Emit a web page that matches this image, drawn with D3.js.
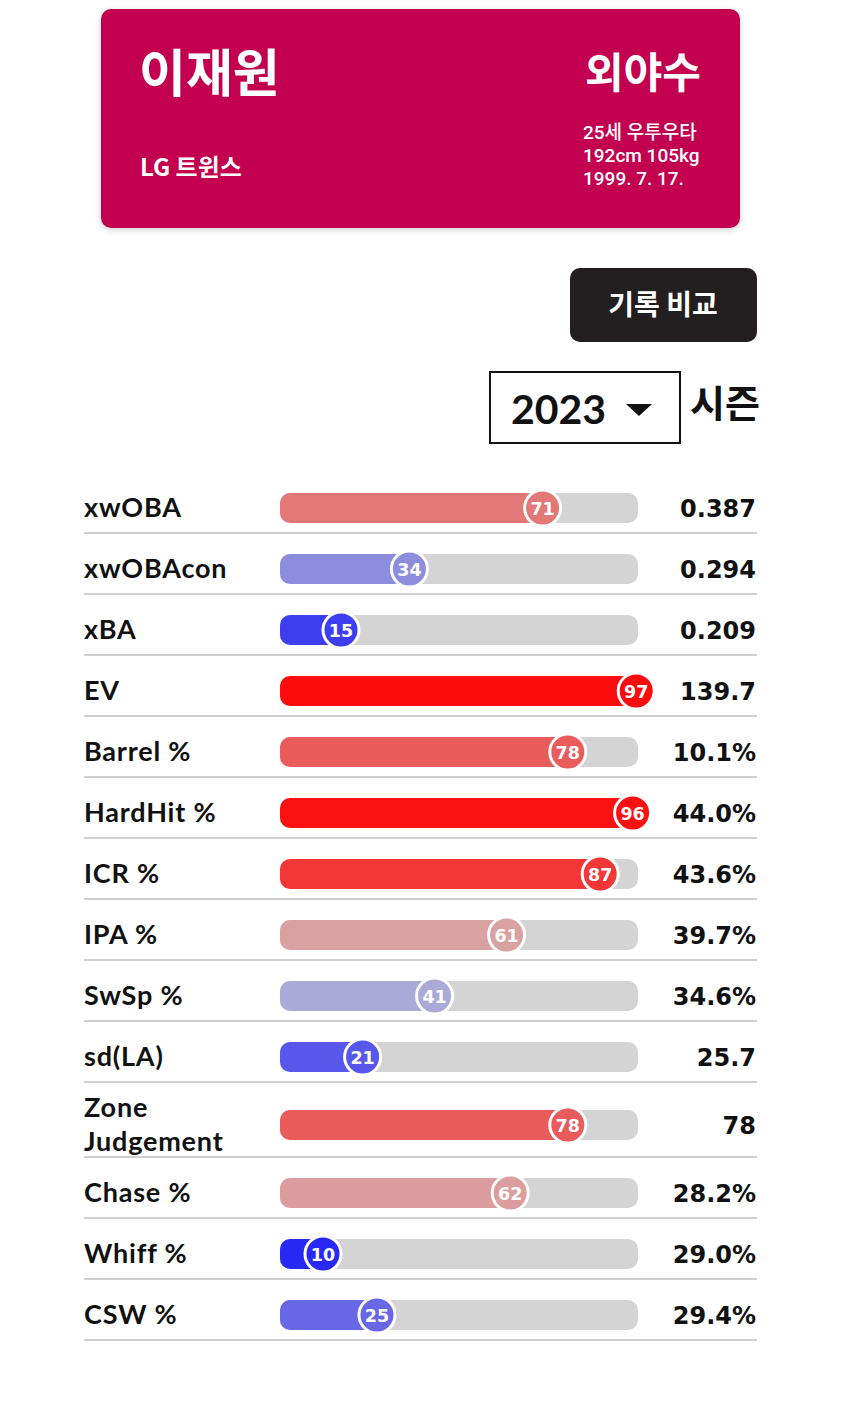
<!DOCTYPE html>
<html><head><meta charset="utf-8">
<script src="https://cdn.jsdelivr.net/npm/d3@7/dist/d3.min.js"></script>
<style>
html,body{margin:0;padding:0;background:#fff;}
svg{display:block;}
</style></head>
<body>
<svg id="chart" width="850" height="1412"></svg>
<script>
// ---- data ----
const playerName = "이재원";
const position = "외야수";
const team = "LG 트윈스";
const infoLines = ["25세 우투우타", "192cm 105kg", "1999. 7. 17."];
const buttonLabel = "기록 비교";
const seasonYear = "2023";
const seasonLabel = "시즌";
const metrics = ["xwOBA","xwOBAcon","xBA","EV","Barrel %","HardHit %","ICR %","IPA %","SwSp %","sd(LA)","Zone\nJudgement","Chase %","Whiff %","CSW %"];
const percentiles = [71,34,15,97,78,96,87,61,41,21,78,62,10,25];
const statValues = ["0.387","0.294","0.209","139.7","10.1%","44.0%","43.6%","39.7%","34.6%","25.7","78","28.2%","29.0%","29.4%"];

// ---- drawing ----
const svg = d3.select("#chart");
const korFont = "'Noto Sans CJK KR', 'Noto Sans', sans-serif";
const latFont = "Lato, 'Noto Sans', sans-serif";
const numFont = "'DejaVu Sans', Lato, sans-serif";

// header card
const defs = svg.append("defs");
const f = defs.append("filter").attr("id","sh").attr("x","-10%").attr("y","-10%").attr("width","120%").attr("height","130%");
f.append("feDropShadow").attr("dx",0).attr("dy",2).attr("stdDeviation",3).attr("flood-color","#000").attr("flood-opacity",0.18);

svg.append("rect").attr("x",101).attr("y",9).attr("width",639).attr("height",219).attr("rx",10)
  .attr("fill","#c2044f").attr("filter","url(#sh)");
svg.append("text").attr("x",139).attr("y",92).text(playerName)
  .attr("font-family",korFont).attr("font-weight",700).attr("font-size",51).attr("fill","#fff");
svg.append("text").attr("x",701).attr("y",88).attr("text-anchor","end").text(position)
  .attr("font-family",korFont).attr("font-weight",700).attr("font-size",42).attr("fill","#fff");
svg.append("text").attr("x",140).attr("y",176).text(team)
  .attr("font-family",korFont).attr("font-weight",700).attr("font-size",24).attr("fill","#fff");
svg.selectAll("text.info").data(infoLines).join("text").attr("class","info")
  .attr("x",583).attr("y",(d,i)=>139+i*23).text(d=>d)
  .attr("font-family","Roboto, 'Noto Sans CJK KR', sans-serif").attr("font-weight",500).attr("font-size",19).attr("fill","#fff");

// button
svg.append("rect").attr("x",570).attr("y",268).attr("width",187).attr("height",74).attr("rx",10).attr("fill","#231f20");
svg.append("text").attr("x",663).attr("y",315).attr("text-anchor","middle").text(buttonLabel)
  .attr("font-family",korFont).attr("font-weight",700).attr("font-size",28).attr("fill","#fff");

// season dropdown
svg.append("rect").attr("x",490).attr("y",372).attr("width",190).attr("height",71).attr("fill","#fff").attr("stroke","#111").attr("stroke-width",2);
svg.append("text").attr("x",511).attr("y",424).text(seasonYear)
  .attr("font-family",latFont).attr("font-weight",700).attr("font-size",41).attr("fill","#111");
svg.append("path").attr("d","M626,404 L652,404 L639,416 Z").attr("fill","#111");
svg.append("text").attr("x",690).attr("y",417).text(seasonLabel)
  .attr("font-family",korFont).attr("font-weight",700).attr("font-size",38).attr("fill","#111");

// rows
const rows = metrics.map((m,i)=>({label:m, pct:percentiles[i], val:statValues[i], lines:m.split("\n").length}));
let yTop = 472;
rows.forEach(r=>{ r.h = r.lines>1 ? 75 : 61; r.top = yTop; r.bottom = yTop + r.h; r.cy = r.bottom - (r.lines>1 ? 32 : 25); yTop += r.h; });

const x = d3.scaleLinear().domain([0,100]).range([287,647]);
const color = d3.scaleLinear().domain([0,50,100]).range(["#0000ff","#cfcfcf","#ff0000"]).interpolate(d3.interpolateRgb);
const trackX0 = 280, trackX1 = 638, barH = 30;

const g = svg.append("g");
const row = g.selectAll("g.row").data(rows).join("g").attr("class","row");

row.append("line").attr("x1",84).attr("x2",757).attr("y1",d=>d.bottom).attr("y2",d=>d.bottom)
  .attr("stroke","#cfcfcf").attr("stroke-width",2);

row.append("text").attr("x",84).attr("font-family",latFont).attr("font-weight",700).attr("font-size",27)
  .attr("letter-spacing",0.8).attr("fill","#111")
  .each(function(d){
    const t = d3.select(this);
    const parts = d.label.split("\n");
    const y0 = d.cy + 9 - (parts.length-1)*17;
    parts.forEach((p,k)=>t.append("tspan").attr("x",84).attr("y",y0 + k*34).text(p));
  });

row.append("rect").attr("x",trackX0).attr("y",d=>d.cy-barH/2).attr("width",trackX1-trackX0).attr("height",barH).attr("rx",10).attr("fill","#d4d4d4");
row.append("rect").attr("x",trackX0).attr("y",d=>d.cy-barH/2).attr("width",d=>Math.max(0,x(d.pct)-trackX0)).attr("height",barH).attr("rx",10).attr("fill",d=>color(d.pct));
row.append("circle").attr("cx",d=>x(d.pct)).attr("cy",d=>d.cy).attr("r",18).attr("fill",d=>color(d.pct)).attr("stroke","#fff").attr("stroke-width",3);
row.append("text").attr("x",d=>x(d.pct)).attr("y",d=>d.cy+6.5).attr("text-anchor","middle").text(d=>d.pct)
  .attr("font-family",numFont).attr("font-weight",700).attr("font-size",17.5).attr("fill","#fff");
row.append("text").attr("x",756).attr("y",d=>d.cy+9).attr("text-anchor","end").text(d=>d.val)
  .attr("font-family",numFont).attr("font-weight",700).attr("font-size",24).attr("fill","#111");
</script>
</body></html>
